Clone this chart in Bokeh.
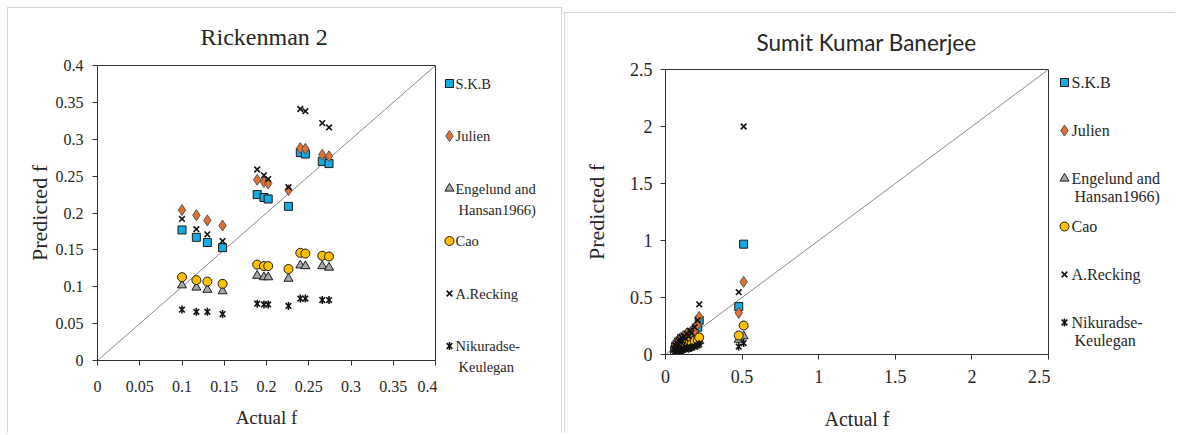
import math
from bokeh.plotting import figure
from bokeh.layouts import row, column
from bokeh.models import ColumnDataSource, FixedTicker, CustomJSTickFormatter, Range1d
from bokeh.core.properties import value
from bokeh.embed import file_html
from bokeh.resources import INLINE

# ---------------- data ----------------
series_names = ["S.K.B", "Julien", "Engelund and", "Cao", "A.Recking", "Nikuradse-"]
legend_second_lines = ["", "", "Hansan1966)", "", "", "Keulegan"]

# Left panel: Rickenman 2
left_title = "Rickenman 2"
left_ticks = [0, 0.05, 0.1, 0.15, 0.2, 0.25, 0.3, 0.35, 0.4]
left_actual = [0.100, 0.117, 0.130, 0.148, 0.189, 0.197, 0.202, 0.226, 0.240, 0.246, 0.266, 0.274]
left_skb = [0.177, 0.167, 0.160, 0.153, 0.225, 0.221, 0.219, 0.209, 0.282, 0.280, 0.270, 0.267]
left_julien = [0.204, 0.197, 0.190, 0.183, 0.245, 0.242, 0.240, 0.231, 0.288, 0.287, 0.279, 0.277]
left_engelund = [0.102, 0.099, 0.096, 0.094, 0.115, 0.113, 0.113, 0.111, 0.129, 0.128, 0.128, 0.126]
left_cao = [0.113, 0.109, 0.107, 0.104, 0.130, 0.128, 0.128, 0.124, 0.146, 0.145, 0.142, 0.141]
left_recking = [0.192, 0.178, 0.171, 0.162, 0.259, 0.251, 0.246, 0.235, 0.341, 0.338, 0.322, 0.316]
left_nikuradse = [0.069, 0.066, 0.066, 0.063, 0.077, 0.076, 0.076, 0.074, 0.084, 0.084, 0.082, 0.082]

# Right panel: Sumit Kumar Banerjee
right_title = "Sumit Kumar Banerjee"
right_ticks = [0, 0.5, 1, 1.5, 2, 2.5]
right_actual = [0.06, 0.065, 0.07, 0.075, 0.08, 0.085, 0.09, 0.095, 0.10, 0.105, 0.11, 0.12,
                0.13, 0.14, 0.15, 0.16, 0.17, 0.19, 0.21, 0.22, 0.478, 0.51]
right_skb = [0.04, 0.07, 0.05, 0.09, 0.06, 0.11, 0.08, 0.12, 0.09, 0.14, 0.10, 0.15,
             0.12, 0.17, 0.13, 0.19, 0.16, 0.21, 0.24, 0.30, 0.42, 0.968]
right_julien = [0.06, 0.09, 0.07, 0.11, 0.08, 0.12, 0.10, 0.14, 0.11, 0.15, 0.13, 0.16,
                0.15, 0.18, 0.17, 0.19, 0.20, 0.21, 0.26, 0.33, 0.365, 0.637]
right_engelund = [0.01, 0.03, 0.02, 0.04, 0.03, 0.05, 0.03, 0.06, 0.04, 0.06, 0.05, 0.07,
                  0.06, 0.08, 0.07, 0.09, 0.08, 0.10, 0.11, 0.12, 0.13, 0.16]
right_cao = [0.02, 0.04, 0.03, 0.05, 0.04, 0.06, 0.05, 0.07, 0.05, 0.08, 0.06, 0.09,
             0.07, 0.10, 0.08, 0.11, 0.09, 0.12, 0.127, 0.15, 0.167, 0.254]
right_recking = [0.05, 0.08, 0.07, 0.10, 0.08, 0.12, 0.09, 0.13, 0.11, 0.15, 0.12, 0.16,
                 0.14, 0.18, 0.16, 0.21, 0.19, 0.24, 0.30, 0.44, 0.547, 2.0]
right_nikuradse = [0.01, 0.02, 0.02, 0.03, 0.02, 0.03, 0.03, 0.04, 0.03, 0.04, 0.04, 0.05,
                   0.05, 0.06, 0.05, 0.06, 0.06, 0.07, 0.08, 0.09, 0.07, 0.10]

# ---------------- styles ----------------
SERIF = "Liberation Serif"
TEXT = "#262626"
AXIS = "#303030"
PANEL_LINE = "#d6d6d6"
marker_styles = [
    [dict(marker="square", size=8, fill_color="#17A9E3", line_color="#1a1a1a", line_width=1)],
    [dict(marker="diamond", size=11, fill_color="#E2702E", line_color="#555555", line_width=1)],
    [dict(marker="triangle", size=9, fill_color="#A8A8A8", line_color="#1a1a1a", line_width=1)],
    [dict(marker="circle", size=9, fill_color="#FFC000", line_color="#1a1a1a", line_width=1)],
    [dict(marker="x", size=8, line_color="#111111", line_width=1.6)],
    [dict(marker="x", size=8, line_color="#111111", line_width=1.6),
     dict(marker="dash", size=8, angle=math.pi / 2, line_color="#111111", line_width=1.6)],
]


def main_panel(g, xmax, ymax, ticks, actual, values, title):
    p = figure(frame_width=g["fw"], frame_height=g["fh"],
               x_range=Range1d(0, xmax), y_range=Range1d(0, ymax),
               output_backend="svg", toolbar_location=None,
               min_border_left=g["mb"][0], min_border_right=g["mb"][1],
               min_border_top=g["mb"][2], min_border_bottom=g["mb"][3])
    p.grid.visible = False
    p.outline_line_color = AXIS
    p.outline_line_width = 1
    p.border_fill_alpha = 0

    p.title.text = title
    p.title.align = "left"
    p.title.text_font = g["tfont"]
    p.title.text_font_size = g["tsize"]
    p.title.text_font_style = "normal"
    p.title.text_color = TEXT
    p.title.standoff = g["tstand"]
    p.title.offset = g["toff"]

    fmt = CustomJSTickFormatter(code="return tick.toString();")
    for ax in (p.xaxis[0], p.yaxis[0]):
        ax.ticker = FixedTicker(ticks=ticks)
        ax.formatter = fmt
        ax.major_tick_in = 0
        ax.major_tick_out = 5
        ax.minor_tick_out = 0
        ax.minor_tick_in = 0
        ax.axis_line_color = AXIS
        ax.major_tick_line_color = AXIS
        ax.major_label_text_font = SERIF
        ax.major_label_text_font_style = "normal"
        ax.major_label_text_font_size = g["tickfont"]
        ax.major_label_text_color = TEXT
        ax.axis_label_text_font = SERIF
        ax.axis_label_text_font_style = "normal"
        ax.axis_label_text_color = TEXT
    p.xaxis.major_label_standoff = g["xstand"]
    p.yaxis.major_label_standoff = g["ystand"]
    p.xaxis.axis_label = "Actual f"
    p.yaxis.axis_label = "Predicted f"
    p.xaxis.axis_label_text_font_size = g["xlsize"]
    p.yaxis.axis_label_text_font_size = g["ylsize"]
    p.xaxis.axis_label_standoff = g["xlstand"]
    p.yaxis.axis_label_standoff = g["ylstand"]

    # 1:1 line
    p.line([0, xmax], [0, ymax], line_color="#8c8c8c", line_width=1)

    for vals, sts in zip(values, marker_styles):
        src = ColumnDataSource(dict(x=actual, y=vals))
        for st in sts:
            p.scatter("x", "y", source=src, **st)
    return p


def legend_panel(g):
    w, h = g["lw"], g["lh"]
    p = figure(frame_width=w, frame_height=h, x_range=Range1d(0, w), y_range=Range1d(h, 0),
               output_backend="svg", toolbar_location=None,
               x_axis_location=None, y_axis_location=None,
               min_border_left=0, min_border_right=0, min_border_top=0, min_border_bottom=0)
    p.grid.visible = False
    p.outline_line_color = None
    p.background_fill_alpha = 0
    p.border_fill_alpha = 0
    ys = [g["ly0"] + i * g["lstep"] for i in range(len(series_names))]
    for y, sts in zip(ys, marker_styles):
        src = ColumnDataSource(dict(x=[g["lmx"]], y=[y]))
        for st in sts:
            p.scatter("x", "y", source=src, **st)
    tx, ty, tt = [], [], []
    for y, name, second in zip(ys, series_names, legend_second_lines):
        tx.append(g["ltx"]); ty.append(y); tt.append(name)
        if second:
            tx.append(g["ltx"] + 3); ty.append(y + g["l2dy"]); tt.append(second)
    p.text(x=tx, y=ty, text=tt, text_font=value(SERIF), text_font_size=value(g["lfont"]),
           text_color=TEXT, text_align="left", text_baseline="middle")
    return p


def panel_frame_styles(lines):
    grad = "linear-gradient({0},{0})".format(PANEL_LINE)
    return {
        "background-image": ", ".join([grad] * len(lines)),
        "background-size": ", ".join(s for s, _ in lines),
        "background-position": ", ".join(pos for _, pos in lines),
        "background-repeat": "no-repeat",
    }


gl = dict(fw=338, fh=295, mb=(97, 2, 65, 70), tfont=SERIF, tsize="24px", tstand=32, toff=103,
          tickfont="16px", xstand=15, ystand=9, xlsize="19px", ylsize="22px",
          xlstand=12, ylstand=1,
          lw=126, lh=433, ly0=83, lstep=52.5, lmx=12, ltx=18, l2dy=21, lfont="14.5px")
gr = dict(fw=383, fh=285, mb=(102, 2, 69, 75), tfont="Lato", tsize="22.5px", tstand=28,
          toff=91, tickfont="18px", xstand=10, ystand=8, xlsize="20px", ylsize="22px",
          xlstand=22, ylstand=18,
          lw=125, lh=433, ly0=82, lstep=48, lmx=14, ltx=21, l2dy=18, lfont="16px")

left_main = main_panel(gl, 0.4, 0.4, left_ticks, left_actual,
                       [left_skb, left_julien, left_engelund, left_cao, left_recking,
                        left_nikuradse], left_title)
left_leg = legend_panel(gl)
right_main = main_panel(gr, 2.5, 2.5, right_ticks, right_actual,
                        [right_skb, right_julien, right_engelund, right_cao, right_recking,
                         right_nikuradse], right_title)
right_leg = legend_panel(gr)

left_group = row(column(left_main), column(left_leg),
                 styles=panel_frame_styles([("555px 1px", "7px 7px"),
                                            ("1px 100%", "7px 7px"),
                                            ("1px 100%", "561px 7px")]))
right_group = row(column(right_main), column(right_leg),
                  styles=panel_frame_styles([("100% 1px", "0px 12px"),
                                             ("1px 100%", "1px 12px")]))

layout = row(left_group, right_group)
open("out.html", "w").write(file_html(layout, INLINE))
